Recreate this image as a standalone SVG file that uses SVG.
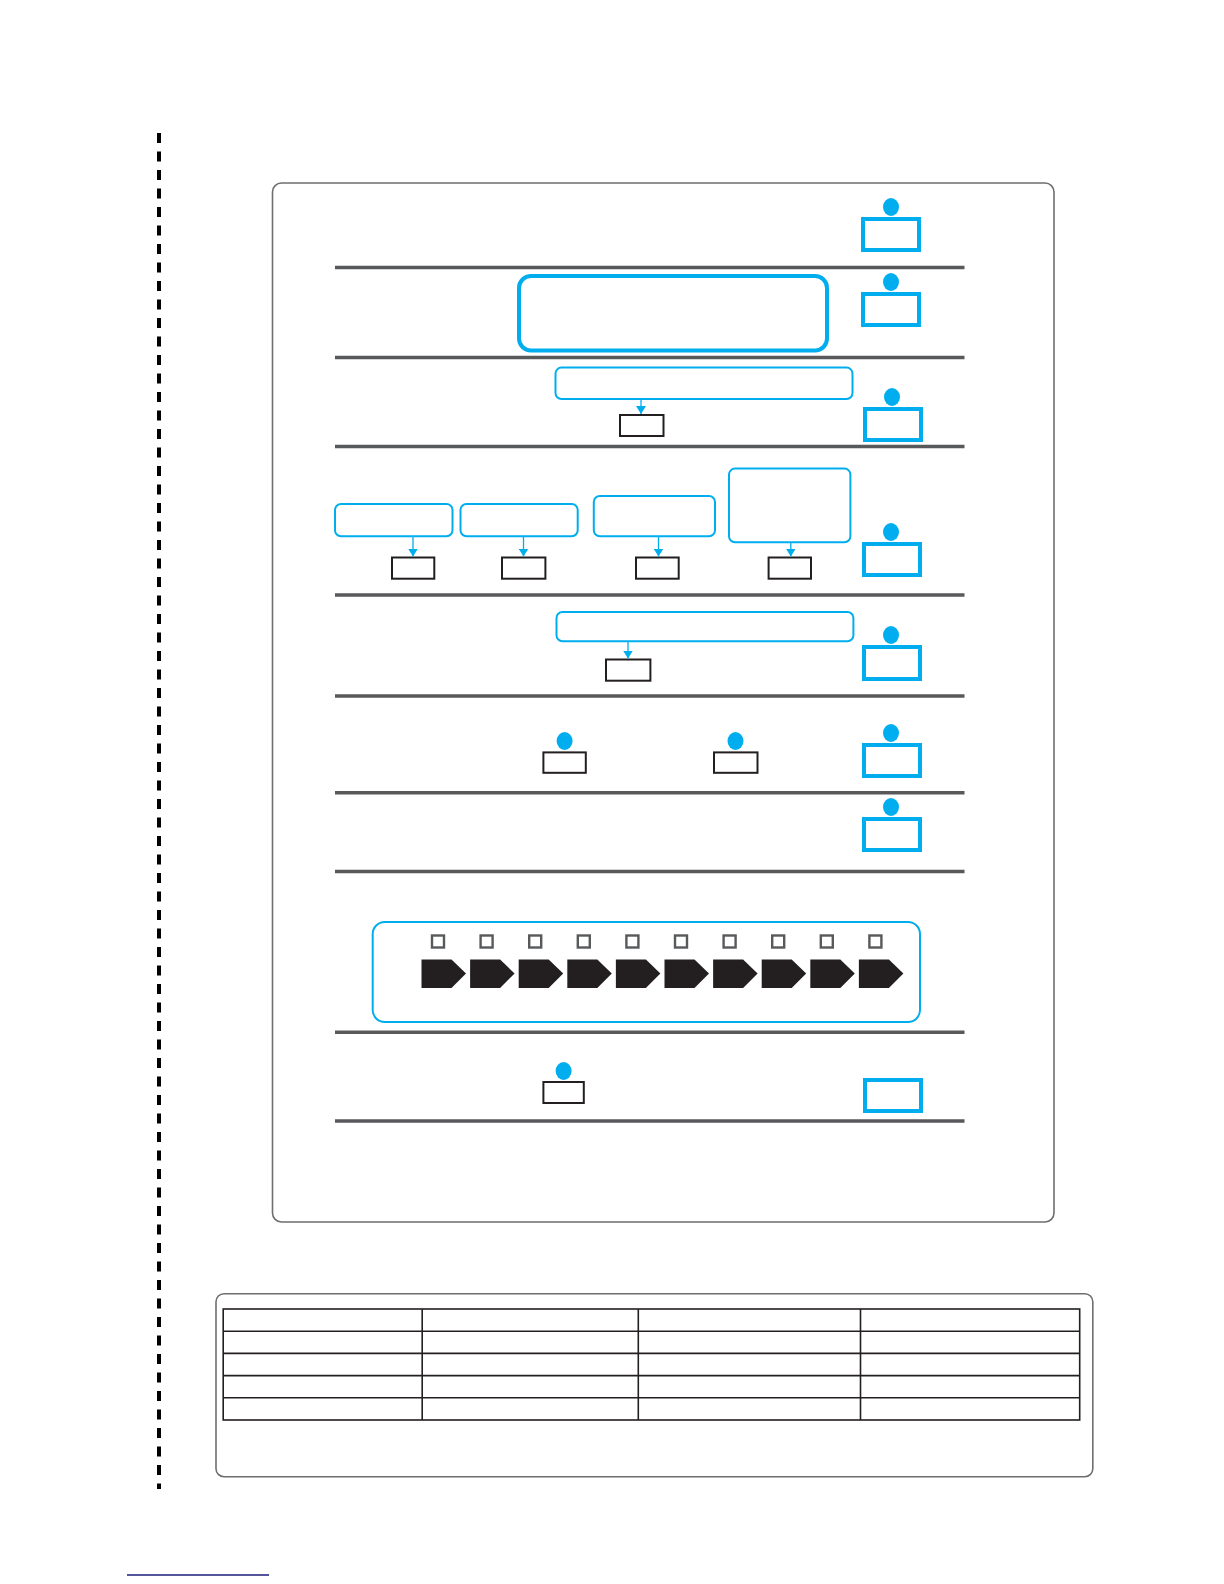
<svg xmlns="http://www.w3.org/2000/svg" width="1224" height="1584" viewBox="0 0 1224 1584">
<defs>
<style>
.frame{fill:none;stroke:#6d6e70;stroke-width:1.6}
.sep{stroke:#58595b;stroke-width:3.5}
.bthick{fill:none;stroke:#00aeef;stroke-width:4}
.bbig{fill:none;stroke:#00aeef;stroke-width:4}
.bthin{fill:none;stroke:#00aeef;stroke-width:2}
.dot{fill:#00aeef}
.blk{fill:none;stroke:#231f20;stroke-width:2}
.sq{fill:none;stroke:#58595b;stroke-width:2.4}
.pent{fill:#231f20}
.conn{stroke:#00aeef;stroke-width:1.3;fill:none}
.tbl{stroke:#231f20;stroke-width:1.6;fill:none}
</style>
<marker id="ah" viewBox="0 0 8 10" refX="8" refY="5" markerWidth="8" markerHeight="10" markerUnits="userSpaceOnUse" orient="auto">
<path d="M0,0 L8,5 L0,10 z" fill="#00aeef"/>
</marker>
</defs>
<rect width="1224" height="1584" fill="#ffffff"/>

<line id="dashed-margin" x1="159" y1="133" x2="159" y2="1489" stroke="#000" stroke-width="4" stroke-dasharray="10 8.5"/>

<rect id="main-frame" class="frame" x="272.5" y="183" width="781.5" height="1039" rx="9"/>

<g id="separators">
<line class="sep" x1="335" y1="267.6" x2="964.5" y2="267.6"/>
<line class="sep" x1="335" y1="357.5" x2="964.5" y2="357.5"/>
<line class="sep" x1="335" y1="446.4" x2="964.5" y2="446.4"/>
<line class="sep" x1="335" y1="595" x2="964.5" y2="595"/>
<line class="sep" x1="335" y1="696" x2="964.5" y2="696"/>
<line class="sep" x1="335" y1="792.8" x2="964.5" y2="792.8"/>
<line class="sep" x1="335" y1="871.6" x2="964.5" y2="871.6"/>
<line class="sep" x1="335" y1="1032.2" x2="964.5" y2="1032.2"/>
<line class="sep" x1="335" y1="1121.1" x2="964.5" y2="1121.1"/>
</g>

<g id="actor-1"><ellipse class="dot" cx="891" cy="207" rx="8" ry="9"/><rect class="bthick" x="863" y="219" width="56" height="31"/></g>
<g id="actor-2"><ellipse class="dot" cx="891" cy="282" rx="8" ry="9"/><rect class="bthick" x="863" y="294" width="56" height="31"/></g>
<g id="actor-3"><ellipse class="dot" cx="892" cy="397" rx="8" ry="9"/><rect class="bthick" x="865" y="409" width="56" height="31"/></g>
<g id="actor-4"><ellipse class="dot" cx="891" cy="532" rx="8" ry="9"/><rect class="bthick" x="864" y="544" width="56" height="31"/></g>
<g id="actor-5"><ellipse class="dot" cx="891" cy="635" rx="8" ry="9"/><rect class="bthick" x="864" y="647" width="56" height="32"/></g>
<g id="actor-6"><ellipse class="dot" cx="891" cy="733" rx="8" ry="9"/><rect class="bthick" x="864" y="745" width="56" height="31"/></g>
<g id="actor-7"><ellipse class="dot" cx="891" cy="807" rx="8" ry="9"/><rect class="bthick" x="864" y="819" width="56" height="31"/></g>
<g id="actor-9"><rect class="bthick" x="865" y="1080" width="56" height="31" stroke-width="5"/></g>

<g id="box-row2"><rect class="bbig" x="519" y="276" width="308" height="74.5" rx="12"/></g>

<g id="box-row3"><rect class="bthin" x="555.5" y="367.6" width="297" height="31.4" rx="6"/></g>
<g id="slot-row3"><rect class="blk" x="620" y="415" width="43.5" height="21"/></g>

<g id="box-row4a"><rect class="bthin" x="335" y="504" width="117.5" height="32.3" rx="6"/></g>
<g id="box-row4b"><rect class="bthin" x="460.5" y="504" width="117.2" height="32.3" rx="6"/></g>
<g id="box-row4c"><rect class="bthin" x="593.8" y="496" width="121.2" height="40.3" rx="6"/></g>
<g id="box-row4d"><rect class="bthin" x="729" y="468.6" width="121.4" height="73.7" rx="6"/></g>
<g id="slot-row4a"><rect class="blk" x="392" y="557.5" width="42.3" height="21.2"/></g>
<g id="slot-row4b"><rect class="blk" x="502" y="557.5" width="43.4" height="21.2"/></g>
<g id="slot-row4c"><rect class="blk" x="636" y="557.5" width="42.7" height="21.2"/></g>
<g id="slot-row4d"><rect class="blk" x="768.6" y="557.5" width="42.4" height="21.2"/></g>

<g id="box-row5"><rect class="bthin" x="556.5" y="612" width="296.9" height="29.3" rx="6"/></g>
<g id="slot-row5"><rect class="blk" x="606" y="659.5" width="44.4" height="21.2"/></g>

<g id="actor-6a"><ellipse class="dot" cx="564.6" cy="741" rx="8" ry="9"/><rect class="blk" x="543.4" y="752.4" width="42.4" height="20.4"/></g>
<g id="actor-6b"><ellipse class="dot" cx="735.5" cy="741" rx="8" ry="9"/><rect class="blk" x="714" y="752.4" width="43.5" height="20.4"/></g>

<g id="sequence-box">
<rect class="bthin" x="372.7" y="922" width="547.3" height="100" rx="12"/>
<g id="checkboxes">
<rect class="sq" x="432" y="935.5" width="12" height="12"/>
<rect class="sq" x="480.6" y="935.5" width="12" height="12"/>
<rect class="sq" x="529.2" y="935.5" width="12" height="12"/>
<rect class="sq" x="577.8" y="935.5" width="12" height="12"/>
<rect class="sq" x="626.4" y="935.5" width="12" height="12"/>
<rect class="sq" x="675" y="935.5" width="12" height="12"/>
<rect class="sq" x="723.6" y="935.5" width="12" height="12"/>
<rect class="sq" x="772.2" y="935.5" width="12" height="12"/>
<rect class="sq" x="820.8" y="935.5" width="12" height="12"/>
<rect class="sq" x="869.4" y="935.5" width="12" height="12"/>
</g>
<g id="steps">
<polygon class="pent" points="421.5,959.5 451.5,959.5 466,973.5 451.5,988 421.5,988"/>
<polygon class="pent" points="470.1,959.5 500.1,959.5 514.6,973.5 500.1,988 470.1,988"/>
<polygon class="pent" points="518.7,959.5 548.7,959.5 563.2,973.5 548.7,988 518.7,988"/>
<polygon class="pent" points="567.3,959.5 597.3,959.5 611.8,973.5 597.3,988 567.3,988"/>
<polygon class="pent" points="615.9,959.5 645.9,959.5 660.4,973.5 645.9,988 615.9,988"/>
<polygon class="pent" points="664.5,959.5 694.5,959.5 709,973.5 694.5,988 664.5,988"/>
<polygon class="pent" points="713.1,959.5 743.1,959.5 757.6,973.5 743.1,988 713.1,988"/>
<polygon class="pent" points="761.7,959.5 791.7,959.5 806.2,973.5 791.7,988 761.7,988"/>
<polygon class="pent" points="810.3,959.5 840.3,959.5 854.8,973.5 840.3,988 810.3,988"/>
<polygon class="pent" points="858.9,959.5 888.9,959.5 903.4,973.5 888.9,988 858.9,988"/>
</g>
</g>

<g id="actor-9a"><ellipse class="dot" cx="563.6" cy="1071" rx="8" ry="9"/><rect class="blk" x="543.4" y="1082" width="40.4" height="21"/></g>

<g id="connectors">
<line class="conn" x1="641" y1="399" x2="641" y2="414" marker-end="url(#ah)"/>
<line class="conn" x1="413" y1="536.3" x2="413" y2="556.5" marker-end="url(#ah)"/>
<line class="conn" x1="523.5" y1="536.3" x2="523.5" y2="556.5" marker-end="url(#ah)"/>
<line class="conn" x1="658.5" y1="536.3" x2="658.5" y2="556.5" marker-end="url(#ah)"/>
<line class="conn" x1="790.8" y1="542.3" x2="790.8" y2="556.5" marker-end="url(#ah)"/>
<line class="conn" x1="628" y1="641.3" x2="628" y2="658.5" marker-end="url(#ah)"/>
</g>

<g id="table-panel">
<rect class="frame" x="216" y="1293.7" width="876.8" height="183" rx="8"/>
<g id="table">
<rect class="tbl" x="223.2" y="1309" width="856.5" height="111"/>
<line class="tbl" x1="223.2" y1="1331.2" x2="1079.7" y2="1331.2"/>
<line class="tbl" x1="223.2" y1="1353.4" x2="1079.7" y2="1353.4"/>
<line class="tbl" x1="223.2" y1="1375.6" x2="1079.7" y2="1375.6"/>
<line class="tbl" x1="223.2" y1="1397.8" x2="1079.7" y2="1397.8"/>
<line class="tbl" x1="422.2" y1="1309" x2="422.2" y2="1420"/>
<line class="tbl" x1="638.3" y1="1309" x2="638.3" y2="1420"/>
<line class="tbl" x1="860.5" y1="1309" x2="860.5" y2="1420"/>
</g>
</g>

<line id="footer-rule" x1="127" y1="1575" x2="269" y2="1575" stroke="#1b1b7a" stroke-width="1.6"/>
</svg>
